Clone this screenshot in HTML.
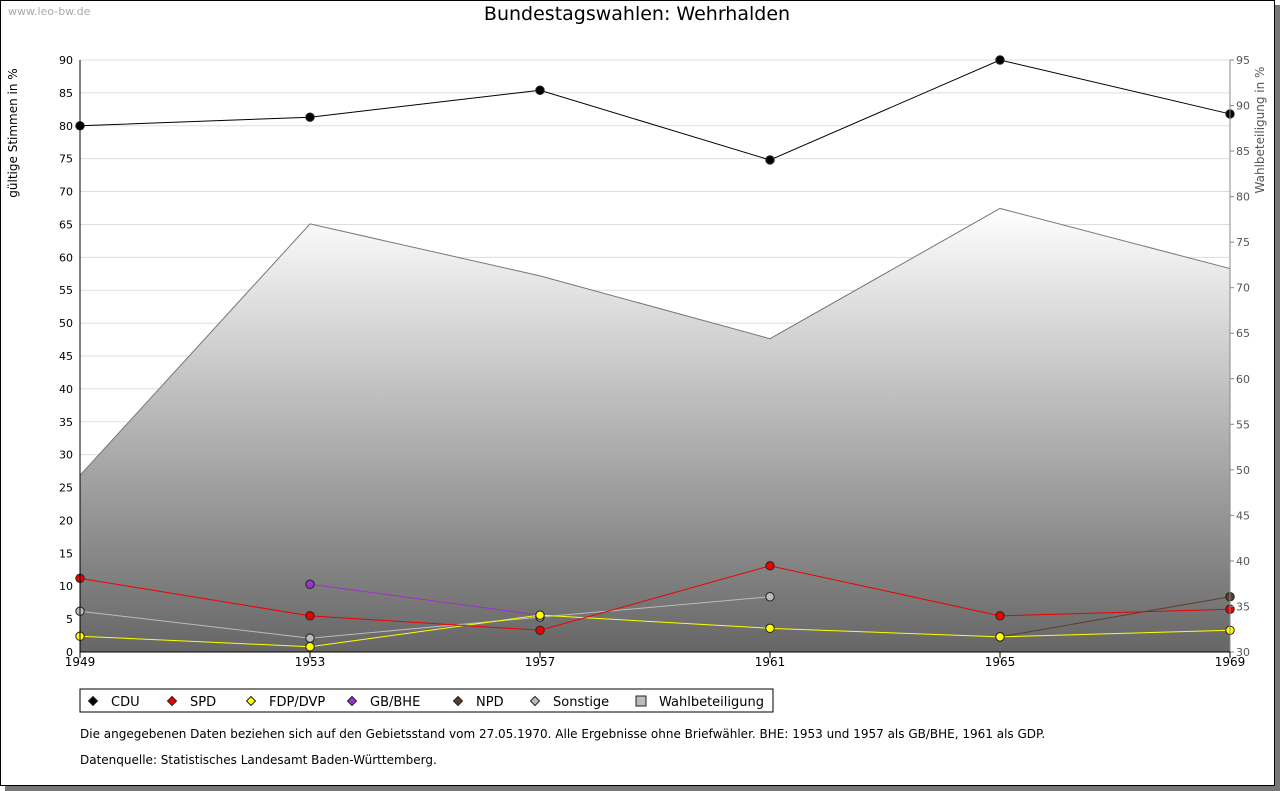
<!DOCTYPE html>
<html><head><meta charset="utf-8"><style>
html,body{margin:0;padding:0;background:#fff;}
body{width:1280px;height:791px;position:relative;overflow:hidden;font-family:"DejaVu Sans","Liberation Sans",sans-serif;}
</style></head><body>
<div style="position:absolute;left:0;top:0;width:1273px;height:784px;border:1px solid #000;box-shadow:5px 5px 0 #777;background:#fff;"></div>
<svg id="c" width="1280" height="791" style="position:absolute;left:0;top:0;font-family:'DejaVu Sans','Liberation Sans',sans-serif;">
<defs><linearGradient id="g" x1="0" y1="0" x2="0" y2="1"><stop offset="0" stop-color="#ffffff"/><stop offset="1" stop-color="#666666"/></linearGradient></defs>
<text x="8" y="15" font-size="11" fill="#aaa">www.leo-bw.de</text>
<text x="637" y="20" font-size="19" text-anchor="middle">Bundestagswahlen: Wehrhalden</text>
<text transform="translate(17,133) rotate(-90)" font-size="12" text-anchor="middle">gültige Stimmen in %</text>
<text transform="translate(1264,130) rotate(-90)" font-size="12" fill="#555" text-anchor="middle">Wahlbeteiligung in %</text>
<g id="grid"></g><g id="area"></g><g id="lines"></g><g id="axes"></g>
<rect x="80" y="689" width="693" height="23" fill="#fff" stroke="#000"/>
<g id="legend"></g>
<text x="80" y="738" font-size="12">Die angegebenen Daten beziehen sich auf den Gebietsstand vom 27.05.1970. Alle Ergebnisse ohne Briefwähler. BHE: 1953 und 1957 als GB/BHE, 1961 als GDP.</text>
<text x="80" y="764" font-size="12">Datenquelle: Statistisches Landesamt Baden-Württemberg.</text>
</svg>
<script>
const years=[1949,1953,1957,1961,1965,1969];
const cdu=[80.0,81.3,85.4,74.8,90.0,81.8];
const spd=[11.2,5.5,3.3,13.1,5.5,6.5];
const fdp=[2.4,0.8,5.6,3.6,2.3,3.3];
const gbbhe=[null,10.3,5.6,null,null,null];
const npd=[null,null,null,null,2.3,8.4];
const sonstige=[6.2,2.1,5.3,8.4,null,null];
const turnout=[49.4,77.0,71.3,64.4,78.7,72.1];
const leftTicks=[0,5,10,15,20,25,30,35,40,45,50,55,60,65,70,75,80,85,90];
const rightTicks=[30,35,40,45,50,55,60,65,70,75,80,85,90,95];
const NS='http://www.w3.org/2000/svg';
const X0=80,X1=1230,Y0=652,Y1=60;
const x=i=>X0+(X1-X0)*i/(years.length-1);
const y=v=>Y0-(Y0-Y1)*v/90;
const y2=v=>Y0-(Y0-Y1)*(v-30)/65;
function mk(t,a,p){const e=document.createElementNS(NS,t);for(const k in a)e.setAttribute(k,a[k]);p.appendChild(e);return e;}
const grid=document.getElementById('grid'),axes=document.getElementById('axes'),lines=document.getElementById('lines'),area=document.getElementById('area'),leg=document.getElementById('legend');
leftTicks.forEach(v=>{const l=mk('line',{x1:X0,x2:X1,y1:y(v),y2:y(v),stroke:'#ddd'},grid);
const t=mk('text',{x:73,y:y(v)+4,'font-size':11,'text-anchor':'end'},axes);t.textContent=v;});
rightTicks.forEach(v=>{const t=mk('text',{x:1236,y:y2(v)+4,'font-size':11,fill:'#555'},axes);t.textContent=v;
mk('line',{x1:X1,x2:X1+4,y1:y2(v),y2:y2(v),stroke:'#888'},axes);});
let d='M'+X0+','+Y0;turnout.forEach((v,i)=>d+=' L'+x(i)+','+y2(v));d+=' L'+X1+','+Y0+' Z';
const ar=mk('path',{d:d,fill:'url(#g)'},area);
const tl=mk('polyline',{points:turnout.map((v,i)=>x(i)+','+y2(v)).join(' '),fill:'none',stroke:'#777'},area);
mk('line',{x1:X0,x2:X0,y1:Y1,y2:Y0,stroke:'#000'},axes);mk('line',{x1:X1,x2:X1,y1:Y1,y2:Y0,stroke:'#888'},axes);mk('line',{x1:X0,x2:X1,y1:Y0,y2:Y0,stroke:'#000'},axes);
years.forEach((yr,i)=>{mk('line',{x1:x(i),x2:x(i),y1:Y0,y2:Y0+6,stroke:'#000'},axes);const t=mk('text',{x:x(i),y:Y0+14,'font-size':12,'text-anchor':'middle'},axes);t.textContent=yr;});
const series=[['CDU',cdu,'#000'],['SPD',spd,'#e00'],['FDP/DVP',fdp,'#ff0'],['GB/BHE',gbbhe,'#93c'],['NPD',npd,'#5a3e2b'],['Sonstige',sonstige,'#bbb']];
const order=[5,4,3,2,1,0];
order.forEach(k=>{const [n,vals,c]=series[k];const g=mk('g',{},lines);
let pts=[];vals.forEach((v,i)=>{if(v!=null)pts.push(x(i)+','+y(v));});
mk('polyline',{points:pts.join(' '),fill:'none',stroke:c,'stroke-width':1},g);
vals.forEach((v,i)=>{if(v==null)return;const p=mk('circle',{cx:x(i),cy:y(v),r:4.2,fill:c,stroke:'#222'},g);});});
const lx=[93,172,251,352,458,535,641];
series.concat([['Wahlbeteiligung',null,'#bbb']]).forEach((s,i)=>{const g=mk('g',{},leg);
const cx=lx[i],cy=701;if(i<6)mk('path',{d:`M${cx},${cy-4.5} L${cx+4.5},${cy} L${cx},${cy+4.5} L${cx-4.5},${cy} Z`,fill:s[2],stroke:'#222'},g);else mk('rect',{x:cx-5,y:cy-5,width:10,height:10,fill:'#bbb',stroke:'#222'},g);
const t=mk('text',{x:cx+18,y:cy+5,'font-size':13},g);t.textContent=s[0];});
</script>
</body></html>
